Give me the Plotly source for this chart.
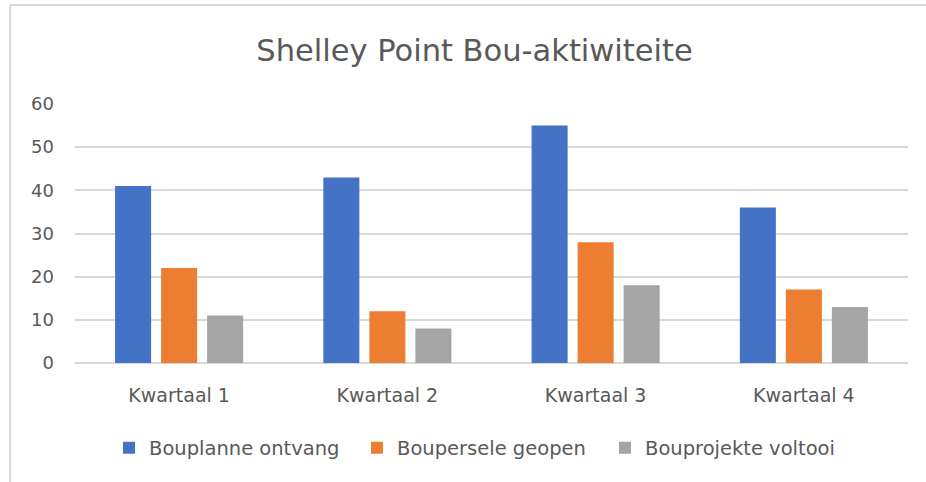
import plotly.graph_objects as go

categories = ["Kwartaal 1", "Kwartaal 2", "Kwartaal 3", "Kwartaal 4"]
series_names = ["Bouplanne ontvang", "Boupersele geopen", "Bouprojekte voltooi"]
bouplanne = [41, 43, 55, 36]
boupersele = [22, 12, 28, 17]
bouprojekte = [11, 8, 18, 13]
colors = ["#4472C4", "#ED7D31", "#A5A5A5"]

fig = go.Figure()
for name, vals, c in zip(series_names, [bouplanne, boupersele, bouprojekte], colors):
    fig.add_trace(go.Bar(x=categories, y=vals, name=name, marker_color=c,
                         marker_line_width=0))

FONT = "DejaVu Sans"
L, R, T, B = 75, 18, 104, 119
PW, PH = 926 - L - R, 482 - T - B

fig.update_layout(
    width=926, height=482,
    margin=dict(l=L, r=R, t=T, b=B),
    paper_bgcolor="white", plot_bgcolor="white",
    font=dict(family=FONT, color="#595959", size=18),
    title=dict(text="Shelley Point Bou-aktiwiteite", x=0.5124, xanchor="center",
               y=0.896, yanchor="middle", xref="container", yref="container",
               font=dict(family=FONT, size=30.5, color="#595959")),
    barmode="group", bargap=0.337, bargroupgap=0.217,
    legend=dict(orientation="h", x=(109 - L) / PW, xanchor="left", xref="paper",
                y=(363 - 448) / PH, yanchor="middle",
                font=dict(family=FONT, size=19.5, color="#595959"),
                itemwidth=30, traceorder="normal",
                entrywidth=203, entrywidthmode="pixels"),
    showlegend=True,
)
fig.update_yaxes(range=[0, 60], dtick=10, showgrid=True, gridcolor="#D9D9D9",
                 gridwidth=1.5, zeroline=True, zerolinecolor="#D9D9D9",
                 zerolinewidth=1.5, ticks="", ticklabelstandoff=20,
                 tickfont=dict(family=FONT, size=18, color="#595959"))
fig.update_xaxes(showgrid=False, showline=False, ticks="",
                 tickfont=dict(family=FONT, size=19, color="#595959"),
                 ticklabelstandoff=19)

# chart border (top and left)
fig.add_shape(type="line", xref="paper", yref="paper",
              x0=(10 - L) / PW, x1=(926 - L) / PW,
              y0=(363 - 5) / PH, y1=(363 - 5) / PH,
              line=dict(color="#D9D9D9", width=2), layer="below")
fig.add_shape(type="line", xref="paper", yref="paper",
              x0=(10 - L) / PW, x1=(10 - L) / PW,
              y0=(363 - 482) / PH, y1=(363 - 5) / PH,
              line=dict(color="#D9D9D9", width=2), layer="below")

fig.write_html("out.html", config={"displayModeBar": False},
               post_script="document.body.style.margin='0';")
